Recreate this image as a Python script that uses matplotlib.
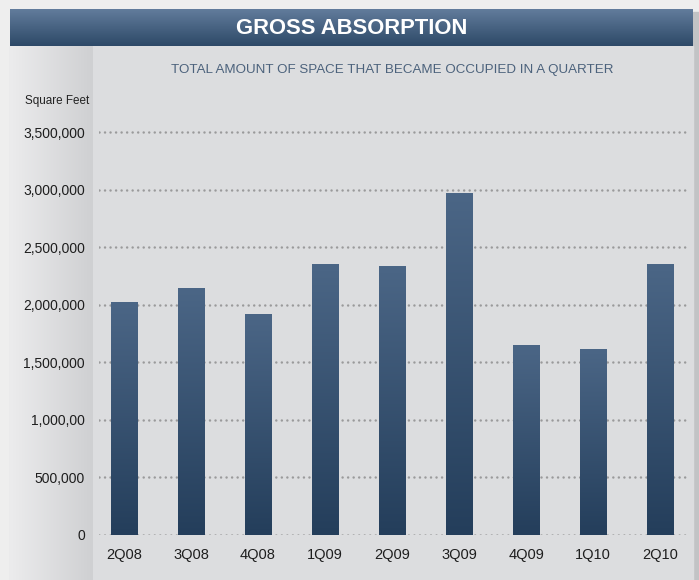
"""Gross absorption bar chart, square feet per quarter."""

import numpy as np
from matplotlib import pyplot as plt
from matplotlib.colors import to_rgb
from matplotlib.ticker import FixedLocator

quarters = ["2Q08", "3Q08", "4Q08", "1Q09", "2Q09", "3Q09", "4Q09", "1Q10", "2Q10"]
absorption = [2020000, 2145000, 1918000, 2352000, 2335000, 2968000, 1650000, 1615000, 2352000]
ytick_values = [0, 500000, 1000000, 1500000, 2000000, 2500000, 3000000, 3500000]
ytick_labels = ["0", "500,000", "1,000,00", "1,500,000", "2,000,000", "2,500,000",
                "3,000,000", "3,500,000"]

W, H = 699, 580
PLAIN = ["Liberation Sans", "DejaVu Sans"]


def vgrad(top, bottom, n=256):
    top = np.array(to_rgb(top))
    bottom = np.array(to_rgb(bottom))
    t = np.linspace(0, 1, n)[:, None]
    return (top * (1 - t) + bottom * t)[:, None, :]


def hgrad(left, right, n=256):
    return np.transpose(vgrad(left, right, n), (1, 0, 2))


fig = plt.figure(figsize=(W / 100, H / 100), dpi=100)

# --- background panel, drawn in pixel coordinates ---
bg = fig.add_axes([0, 0, 1, 1])
bg.axis("off")
bg.add_patch(plt.Rectangle((0, 0), W, H, color="#eeeeee", zorder=0))
bg.add_patch(plt.Rectangle((693, 12), 6, H, color="#c2c3c5", zorder=1))
bg.add_patch(plt.Rectangle((10, 46), 683, H, color="#dcdddf", zorder=2))
bg.imshow(hgrad("#ececed", "#cfd0d2"), extent=(10, 93, H, 46), aspect="auto", zorder=3)
bg.imshow(vgrad("#627c9c", "#2d4967"), extent=(10, 693, 46, 9), aspect="auto", zorder=3)
bg.set_xlim(0, W)
bg.set_ylim(H, 0)

fig.text(352 / W, 1 - 28 / H, "GROSS ABSORPTION", color="white", fontsize=15.8,
         fontweight="bold", family=PLAIN, ha="center", va="center")
fig.text(392 / W, 1 - 70 / H, "TOTAL AMOUNT OF SPACE THAT BECAME OCCUPIED IN A QUARTER",
         color="#4c627c", fontsize=9.6, family=PLAIN, ha="center", va="center")
fig.text(89 / W, 1 - 101 / H, "Square Feet", color="#222222", fontsize=8.4,
         family=PLAIN, ha="right", va="center")

# --- bar chart ---
ax = fig.add_axes([99 / W, 45 / H, 588 / W, 414.5 / H])
ax.patch.set_alpha(0)
x = np.arange(len(quarters))
bars = ax.bar(x, absorption, width=0.39, color="#3a5575", edgecolor="#8fa0b4",
              linewidth=0.6, zorder=3)

for bar in bars:
    bx, by = bar.get_x(), bar.get_y()
    im = ax.imshow(vgrad("#4b6686", "#243e5b"), aspect="auto", zorder=3.5,
                   extent=(bx, bx + bar.get_width(), by, by + bar.get_height()),
                   origin="upper")
    im.set_clip_path(bar)
ax.set_xlim(-0.373, 8.4)
ax.set_ylim(0, 3600000)

ax.yaxis.set_major_locator(FixedLocator(ytick_values))
ax.set_yticklabels(ytick_labels, family=PLAIN, fontsize=10, color="#1e1e1e")
ax.set_xticks(x)
ax.set_xticklabels(quarters, family=PLAIN, fontsize=10.5, color="#1e1e1e")
ax.tick_params(length=0)
ax.tick_params(axis="y", pad=10)
ax.tick_params(axis="x", pad=9)
ax.grid(axis="y", color="#9a9a9b", linestyle=(0, (0.01, 2.2)), linewidth=1.8,
        dash_capstyle="round", solid_capstyle="round", zorder=1)
for s in ax.spines.values():
    s.set_visible(False)
ax.set_axisbelow(True)

fig.savefig("out.png", dpi=100)
